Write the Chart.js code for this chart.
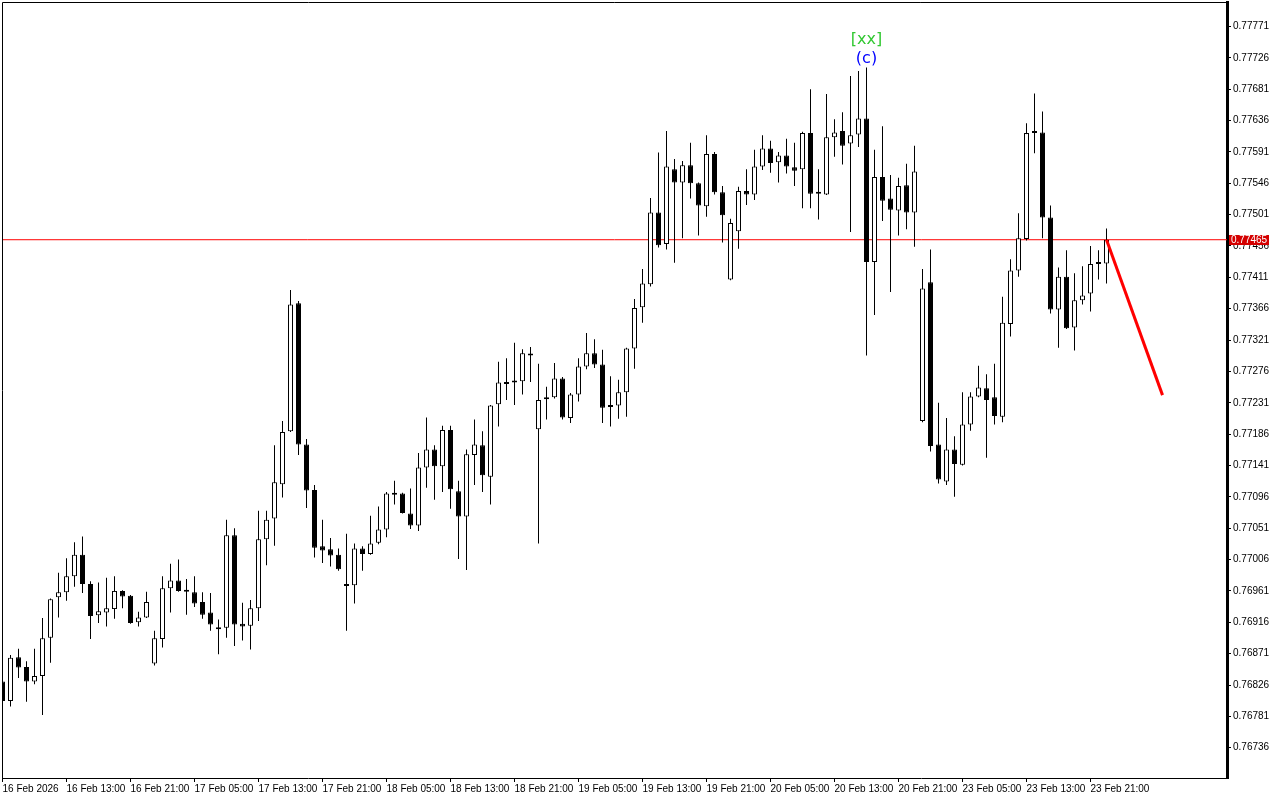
<!DOCTYPE html>
<html>
<head>
<meta charset="utf-8">
<title>H1 chart</title>
<script src="https://cdn.jsdelivr.net/npm/chart.js@4.4.1/dist/chart.umd.min.js"></script>
<style>
  html, body { margin: 0; padding: 0; background: #fff; }
  canvas { display: block; }
</style>
</head>
<body>
<canvas id="chart" width="1280" height="800"></canvas>
<script>
// H1 candles, 16 Feb 05:00 .. 23 Feb 23:00
const openPrices = [
  0.76831,0.76803,0.76866,0.76852,0.76831,0.76839,0.76894,0.76952,0.76959,0.76982,
  0.77013,0.76971,0.76926,0.76930,0.76935,0.76961,0.76954,0.76916,0.76923,0.76857,
  0.76892,0.76965,0.76976,0.76962,0.76959,0.76945,0.76930,0.76909,0.76908,0.77041,
  0.76914,0.76911,0.76936,0.77035,0.77065,0.77114,0.77190,0.77374,0.77171,0.77106,
  0.77025,0.77021,0.77013,0.76970,0.76969,0.77022,0.77014,0.77030,0.77049,0.77099,
  0.77101,0.77072,0.77055,0.77138,0.77164,0.77140,0.77192,0.77104,0.77068,0.77156,
  0.77170,0.77125,0.77229,0.77258,0.77261,0.77262,0.77300,0.77193,0.77236,0.77239,
  0.77266,0.77209,0.77243,0.77283,0.77302,0.77286,0.77227,0.77227,0.77246,0.77309,
  0.77368,0.77401,0.77504,0.77459,0.77566,0.77547,0.77572,0.77546,0.77513,0.77588,
  0.77533,0.77408,0.77477,0.77535,0.77530,0.77570,0.77596,0.77576,0.77586,0.77569,
  0.77566,0.77618,0.77531,0.77530,0.77612,0.77621,0.77603,0.77616,0.77639,0.77433,
  0.77555,0.77524,0.77507,0.77543,0.77504,0.77205,0.77404,0.77171,0.77118,0.77164,
  0.77142,0.77200,0.77240,0.77252,0.77239,0.77211,0.77344,0.77421,0.77466,0.77619,
  0.77619,0.77497,0.77365,0.77412,0.77339,0.77378,0.77388,0.77431,0.77431
];
const highPrices = [
  0.76832,0.76869,0.76878,0.76860,0.76878,0.76922,0.76950,0.76987,0.77008,0.77031,
  0.77039,0.76975,0.76973,0.76980,0.76982,0.76962,0.76955,0.76931,0.76960,0.76904,
  0.76982,0.77000,0.77006,0.76978,0.76982,0.76959,0.76958,0.76920,0.77063,0.77051,
  0.76944,0.76948,0.77076,0.77076,0.77170,0.77205,0.77393,0.77377,0.77179,0.77113,
  0.77063,0.77037,0.77022,0.77043,0.77029,0.77025,0.77069,0.77082,0.77103,0.77119,
  0.77102,0.77108,0.77159,0.77210,0.77170,0.77198,0.77198,0.77119,0.77164,0.77207,
  0.77190,0.77228,0.77290,0.77295,0.77317,0.77308,0.77311,0.77287,0.77254,0.77288,
  0.77268,0.77245,0.77295,0.77331,0.77322,0.77307,0.77269,0.77264,0.77310,0.77380,
  0.77423,0.77525,0.77590,0.77621,0.77581,0.77578,0.77604,0.77547,0.77615,0.77591,
  0.77542,0.77495,0.77541,0.77566,0.77594,0.77615,0.77607,0.77591,0.77610,0.77604,
  0.77620,0.77681,0.77566,0.77674,0.77638,0.77648,0.77700,0.77707,0.77712,0.77594,
  0.77628,0.77558,0.77554,0.77574,0.77600,0.77423,0.77451,0.77231,0.77209,0.77183,
  0.77246,0.77246,0.77284,0.77272,0.77287,0.77383,0.77437,0.77503,0.77632,0.77675,
  0.77649,0.77514,0.77425,0.77450,0.77417,0.77427,0.77456,0.77450,0.77481
];
const lowPrices = [
  0.76802,0.76795,0.76836,0.76802,0.76827,0.76783,0.76858,0.76923,0.76947,0.76967,
  0.76958,0.76892,0.76915,0.76910,0.76921,0.76936,0.76914,0.76910,0.76922,0.76854,
  0.76880,0.76930,0.76960,0.76927,0.76938,0.76921,0.76904,0.76870,0.76894,0.76882,
  0.76890,0.76877,0.76918,0.76998,0.77026,0.77095,0.77189,0.77156,0.77080,0.77009,
  0.77001,0.76996,0.76990,0.76904,0.76943,0.76990,0.77013,0.77028,0.77038,0.77085,
  0.77072,0.77050,0.77047,0.77109,0.77092,0.77103,0.77079,0.77007,0.76991,0.77113,
  0.77103,0.77085,0.77197,0.77235,0.77228,0.77243,0.77261,0.77029,0.77207,0.77237,
  0.77207,0.77202,0.77233,0.77279,0.77281,0.77202,0.77197,0.77208,0.77211,0.77280,
  0.77346,0.77398,0.77454,0.77451,0.77432,0.77467,0.77524,0.77471,0.77498,0.77530,
  0.77461,0.77407,0.77452,0.77515,0.77522,0.77565,0.77561,0.77547,0.77560,0.77542,
  0.77510,0.77510,0.77494,0.77529,0.77584,0.77573,0.77476,0.77598,0.77299,0.77357,
  0.77492,0.77390,0.77471,0.77480,0.77455,0.77203,0.77161,0.77115,0.77113,0.77096,
  0.77141,0.77191,0.77239,0.77152,0.77200,0.77203,0.77326,0.77412,0.77464,0.77589,
  0.77467,0.77359,0.77310,0.77337,0.77306,0.77372,0.77362,0.77408,0.77402
];
const closePrices = [
  0.76803,0.76865,0.76851,0.76831,0.76839,0.76893,0.76949,0.76959,0.76982,0.77013,
  0.76971,0.76925,0.76932,0.76936,0.76961,0.76953,0.76915,0.76923,0.76945,0.76893,
  0.76965,0.76976,0.76961,0.76960,0.76943,0.76927,0.76913,0.76906,0.77041,0.76913,
  0.76910,0.76936,0.77035,0.77063,0.77117,0.77189,0.77372,0.77171,0.77105,0.77023,
  0.77019,0.77012,0.76992,0.76968,0.77022,0.77014,0.77029,0.77049,0.77101,0.77101,
  0.77073,0.77055,0.77138,0.77164,0.77140,0.77192,0.77107,0.77068,0.77157,0.77171,
  0.77127,0.77227,0.77260,0.77260,0.77260,0.77302,0.77299,0.77235,0.77239,0.77266,
  0.77210,0.77243,0.77283,0.77302,0.77286,0.77224,0.77225,0.77246,0.77309,0.77367,
  0.77402,0.77504,0.77457,0.77570,0.77547,0.77572,0.77546,0.77514,0.77588,0.77533,
  0.77500,0.77489,0.77535,0.77530,0.77570,0.77596,0.77575,0.77586,0.77570,0.77564,
  0.77618,0.77531,0.77532,0.77612,0.77619,0.77600,0.77615,0.77639,0.77433,0.77555,
  0.77521,0.77508,0.77542,0.77504,0.77563,0.77395,0.77169,0.77121,0.77164,0.77143,
  0.77200,0.77240,0.77253,0.77235,0.77212,0.77346,0.77421,0.77467,0.77618,0.77618,
  0.77497,0.77365,0.77412,0.77338,0.77378,0.77385,0.77430,0.77430,0.77465
];

const timeTickBars = [0, 8, 16, 24, 32, 40, 48, 56, 64, 72, 80, 88, 96, 104, 112, 120, 128, 136];
const timeTickLabels = [
  '16 Feb 2026', '16 Feb 13:00', '16 Feb 21:00', '17 Feb 05:00', '17 Feb 13:00', '17 Feb 21:00',
  '18 Feb 05:00', '18 Feb 13:00', '18 Feb 21:00', '19 Feb 05:00', '19 Feb 13:00', '19 Feb 21:00',
  '20 Feb 05:00', '20 Feb 13:00', '20 Feb 21:00', '23 Feb 05:00', '23 Feb 13:00', '23 Feb 21:00'
];
const priceTicks = [
  0.77771, 0.77726, 0.77681, 0.77636, 0.77591, 0.77546, 0.77501, 0.77456, 0.77411, 0.77366,
  0.77321, 0.77276, 0.77231, 0.77186, 0.77141, 0.77096, 0.77051, 0.77006, 0.76961, 0.76916,
  0.76871, 0.76826, 0.76781, 0.76736
];

const currentPrice = 0.77465;
const forecastBars = [138, 145];
const forecastPrices = [0.77465, 0.77242];

const waveBar = 108;
const waveLabels = ['[xx]', '(c)'];

const axisFont = { family: "'Liberation Sans', Arial, sans-serif", size: 10 };

const bars = openPrices.map((_, i) => i);
const bodies = bars.map(i => ({
  x: i,
  y: [Math.min(openPrices[i], closePrices[i]), Math.max(openPrices[i], closePrices[i])]
}));
const wicks = bars.map(i => ({ x: i, y: [lowPrices[i], highPrices[i]] }));
const bodyColors = bars.map(i => closePrices[i] >= openPrices[i] ? '#ffffff' : '#000000');

// frame round the plot + price tag + wave labels
const overlayPlugin = {
  id: 'overlay',
  afterDraw(chart) {
    const { ctx, chartArea: a, scales } = chart;
    ctx.save();
    ctx.strokeStyle = '#000';
    ctx.lineWidth = 1;
    ctx.beginPath();
    ctx.moveTo(a.right, a.top + 0.5);
    ctx.lineTo(a.left + 0.5, a.top + 0.5);
    ctx.lineTo(a.left + 0.5, a.bottom + 0.5);
    ctx.stroke();

    const py = Math.round(scales.y.getPixelForValue(currentPrice));
    ctx.fillStyle = '#d40000';
    ctx.fillRect(a.right + 2, py - 5, 40, 10);
    ctx.fillStyle = '#fff';
    ctx.font = "10px 'Liberation Sans', Arial, sans-serif";
    ctx.textAlign = 'left';
    ctx.textBaseline = 'middle';
    ctx.fillText(currentPrice.toFixed(5), a.right + 4, py + 0.5);

    const wx = scales.x.getPixelForValue(waveBar);
    const wy = scales.y.getPixelForValue(highPrices[waveBar]);
    ctx.font = "16px 'DejaVu Sans', sans-serif";
    ctx.textAlign = 'center';
    ctx.fillStyle = '#32c832';
    ctx.fillText(waveLabels[0], wx, wy - 28);
    ctx.fillStyle = '#0000ff';
    ctx.fillText(waveLabels[1], wx, wy - 9);
    ctx.restore();
  }
};

new Chart(document.getElementById('chart'), {
  type: 'bar',
  data: {
    datasets: [
      {
        type: 'line',
        data: forecastBars.map((b, k) => ({ x: b, y: forecastPrices[k] })),
        borderColor: '#ff0000',
        borderWidth: 3,
        pointRadius: 0,
        order: -1
      },
      {
        data: bodies,
        backgroundColor: bodyColors,
        borderColor: '#000',
        borderWidth: 1,
        borderSkipped: false,
        barThickness: 5,
        minBarLength: 2,
        inflateAmount: 0,
        grouped: false,
        order: 0
      },
      {
        data: wicks,
        backgroundColor: '#000',
        borderWidth: 0,
        barThickness: 1,
        inflateAmount: 0,
        grouped: false,
        order: 1
      },
      {
        type: 'line',
        data: [{ x: -1, y: currentPrice }, { x: 160, y: currentPrice }],
        borderColor: '#ff0000',
        borderWidth: 1,
        pointRadius: 0,
        order: 2
      }
    ]
  },
  options: {
    responsive: false,
    animation: false,
    events: [],
    layout: { padding: { left: 2, top: 2, right: 0, bottom: 0 } },
    plugins: { legend: { display: false }, tooltip: { enabled: false } },
    scales: {
      x: {
        type: 'linear',
        min: -0.0625,
        max: 153.0625,
        offset: false,
        afterBuildTicks: s => { s.ticks = timeTickBars.map(v => ({ value: v })); },
        afterFit: s => { s.height = 22; s.paddingLeft = 0; s.paddingRight = 0; },
        grid: { drawOnChartArea: false, drawTicks: true, tickLength: 4, color: '#000', offset: false },
        border: { color: '#000' },
        ticks: {
          autoSkip: false,
          maxRotation: 0,
          align: 'start',
          padding: 1,
          color: '#000',
          font: axisFont,
          callback: (v, i) => timeTickLabels[i]
        }
      },
      y: {
        position: 'right',
        min: 0.7669257,
        max: 0.7780613,
        afterBuildTicks: s => { s.ticks = priceTicks.map(v => ({ value: v })); },
        afterFit: s => { s.width = 53; s.paddingTop = 0; s.paddingBottom = 0; },
        grid: { drawOnChartArea: false, drawTicks: true, tickLength: 4, color: '#000' },
        border: { color: '#000', width: 3 },
        ticks: {
          padding: 2,
          color: '#000',
          font: axisFont,
          callback: v => v.toFixed(5)
        }
      }
    }
  },
  plugins: [overlayPlugin]
});
</script>
</body>
</html>
